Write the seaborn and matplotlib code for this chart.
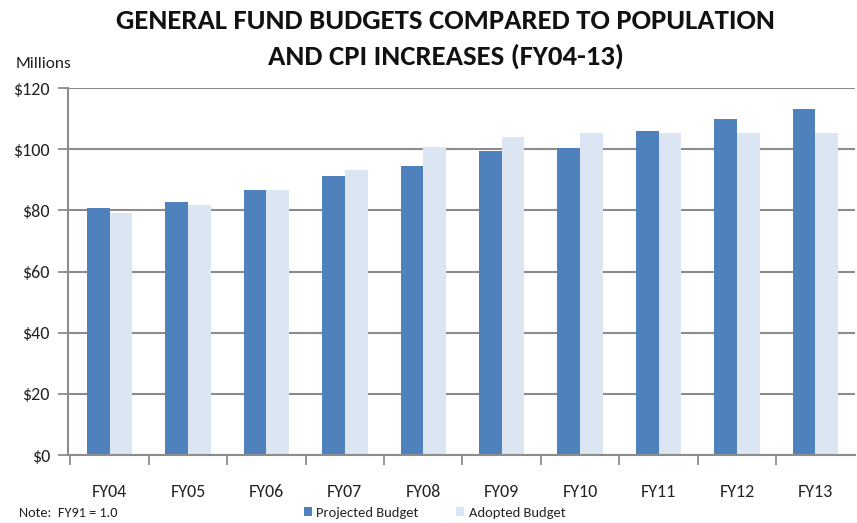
import matplotlib
matplotlib.use("Agg")
import matplotlib.pyplot as plt
from matplotlib.patches import Patch
import numpy as np
import pandas as pd
import seaborn as sns

years = ["FY04", "FY05", "FY06", "FY07", "FY08", "FY09", "FY10", "FY11", "FY12", "FY13"]
projected = [80.8, 82.7, 86.7, 91.2, 94.5, 99.5, 100.5, 106.1, 109.8, 113.1]
adopted = [79.1, 81.8, 86.7, 93.2, 100.7, 104.1, 105.2, 105.2, 105.2, 105.2]
series_names = ["Projected Budget", "Adopted Budget"]
series_colors = ["#4F81BD", "#DCE6F2"]
y_ticks = [0, 20, 40, 60, 80, 100, 120]

df = pd.DataFrame({
    "year": years * 2,
    "value": projected + adopted,
    "series": [series_names[0]] * len(years) + [series_names[1]] * len(years),
})

sns.set_theme(style="white")
BODY_FONT = ["Carlito", "Lato", "DejaVu Sans"]
TITLE_FONT = ["Carlito", "Lato", "DejaVu Sans"]
plt.rcParams["font.family"] = BODY_FONT

fig = plt.figure(figsize=(8.57, 5.23), dpi=100)
ax = fig.add_axes([0.0793, 0.130, 0.918, 0.7017])

sns.barplot(data=df, x="year", y="value", hue="series", order=years,
            hue_order=series_names, palette=series_colors, width=0.58,
            saturation=1, edgecolor="none", legend=False, ax=ax)

ax.set_xlim(-0.53, 9.5)
ax.set_ylim(0, 120)
ax.set_yticks(y_ticks)
ax.set_yticklabels([f"${v}" for v in y_ticks], fontsize=13, color="#222222")
ax.yaxis.grid(True, color="#8c8c8c", linewidth=1.5)
ax.set_axisbelow(True)
ax.set_xlabel("")
ax.set_ylabel("")

for side in ["top", "right"]:
    ax.spines[side].set_visible(False)
for side in ["left", "bottom"]:
    ax.spines[side].set_color("#8c8c8c")
    ax.spines[side].set_linewidth(1.5)

ax.tick_params(axis="y", which="major", left=True, length=7, width=1.3,
               color="#8c8c8c", pad=6)
ax.tick_params(axis="x", which="major", bottom=False, length=0, pad=21,
               labelsize=13, labelcolor="#222222")
ax.set_xticks(np.arange(-0.5, 9.5, 1.0), minor=True)
ax.tick_params(axis="x", which="minor", bottom=True, length=7, width=1.3,
               color="#8c8c8c")

fig.text(0.520, 0.960, "GENERAL FUND BUDGETS COMPARED TO POPULATION",
         ha="center", va="center", fontsize=20.7, fontweight="bold",
         family=TITLE_FONT, color="#111111")
fig.text(0.520, 0.893, "AND CPI INCREASES (FY04-13)",
         ha="center", va="center", fontsize=20.7, fontweight="bold",
         family=TITLE_FONT, color="#111111")
fig.text(0.018, 0.877, "Millions", ha="left", va="center", fontsize=12.5,
         color="#222222")
fig.text(0.022, 0.020, "Note:  FY91 = 1.0", ha="left", va="center",
         fontsize=10.3, color="#222222")

handles = [Patch(facecolor=c, edgecolor="none", label=n)
           for n, c in zip(series_names, series_colors)]
fig.legend(handles=handles, loc="center", bbox_to_anchor=(0.507, 0.020),
           ncol=2, frameon=False, fontsize=10.5, handlelength=0.55,
           handleheight=0.55, handletextpad=0.3, columnspacing=2.6)

fig.savefig("out.png", dpi=100)
